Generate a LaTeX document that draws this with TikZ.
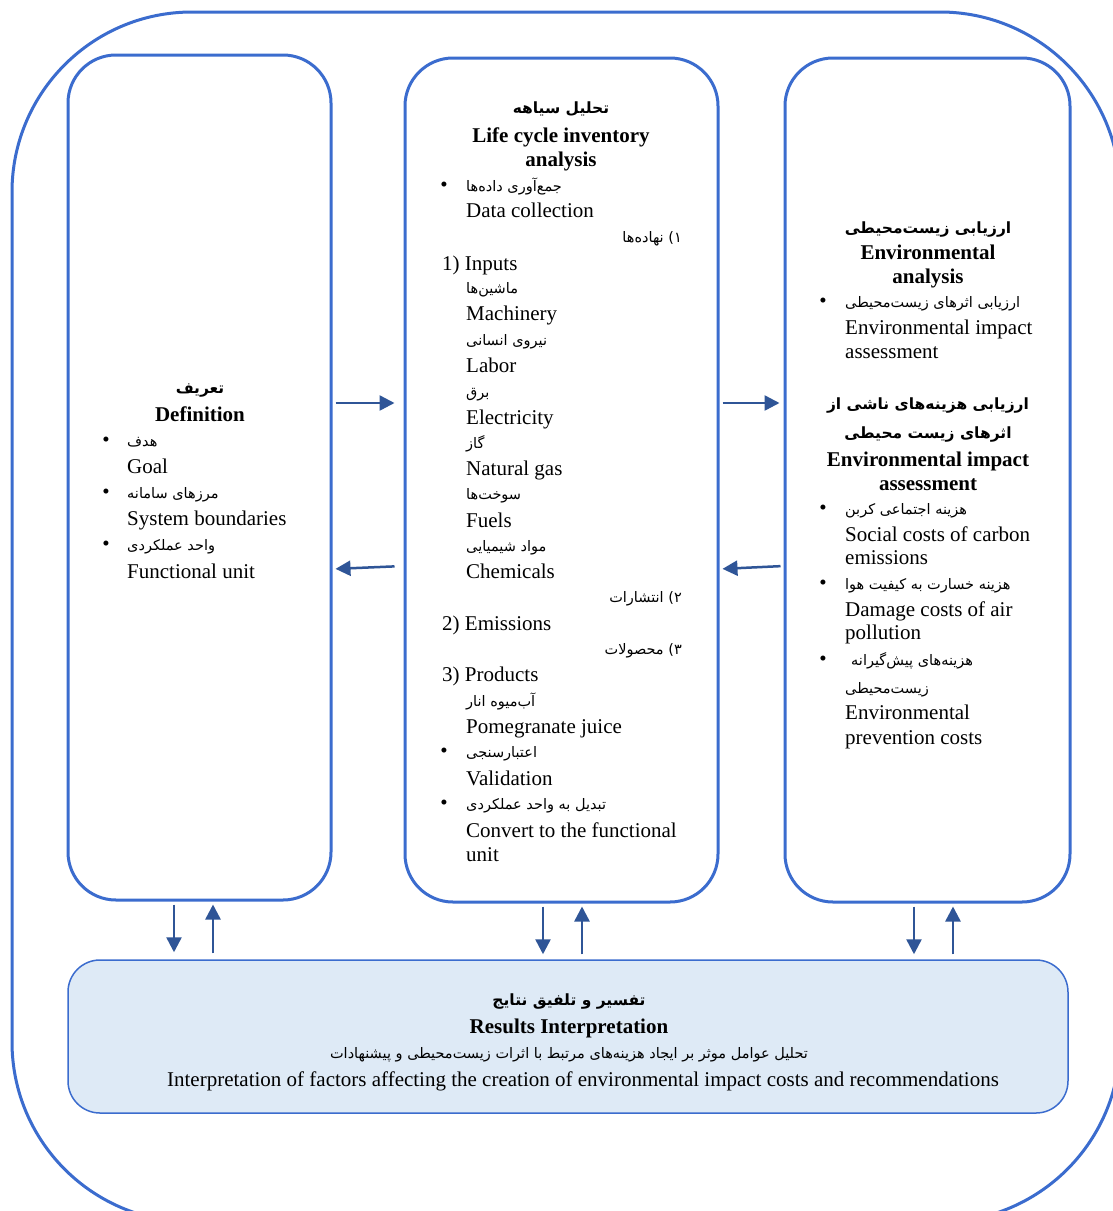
\documentclass[tikz,border=0pt]{standalone}
\usepackage{fontspec}
\setmainfont{Liberation Serif}
\newfontfamily\persfont[Script=Arabic]{DejaVu Sans}
\TeXXeTstate=1
\usetikzlibrary{arrows.meta,calc}
\definecolor{boxblue}{RGB}{59,108,206}
\definecolor{arrblue}{RGB}{47,85,151}
\definecolor{resfill}{RGB}{222,234,246}
\newcommand\RL[1]{\beginR #1\endR}
\tikzset{
 box/.style={draw=boxblue, line width=3pt, rounded corners=48pt, inner sep=0pt},
 framebox/.style={draw=boxblue, line width=3pt, rounded corners=180pt, inner sep=0pt},
 resbox/.style={draw=boxblue, line width=1.5pt, fill=resfill, rounded corners=32pt, inner sep=0pt},
 arr/.style={draw=arrblue, line width=2.5pt, -{Triangle[length=15pt,width=15pt]}},
 en/.style={font=\fontsize{21}{25}\selectfont, anchor=base west, inner sep=0pt},
 hd/.style={font=\fontsize{21}{25}\selectfont\bfseries, anchor=base, inner sep=0pt},
 fa/.style={font=\fontsize{14.5}{17}\selectfont\persfont, anchor=base west, inner sep=0pt},
 far/.style={fa, anchor=base east},
 fac/.style={fa, anchor=base},
 fahd/.style={font=\fontsize{15.5}{18}\selectfont\persfont\bfseries, anchor=base, inner sep=0pt},
 bul/.style={font=\fontsize{21}{25}\selectfont, anchor=base, inner sep=0pt},
}
\begin{document}
\begin{tikzpicture}[x=1pt,y=-1pt]
\clip (0,0) rectangle (1113,1211);
\fill[white] (0,0) rectangle (1113,1211);
% frame and boxes
\node[framebox, minimum width=1108pt, minimum height=1210pt] (frame) at (566,617) {};
\node[box, minimum width=263pt, minimum height=845pt] (def) at (199.5,477.5) {};
\node[box, minimum width=313pt, minimum height=844pt] (lci) at (561.5,480) {};
\node[box, minimum width=285pt, minimum height=844pt] (env) at (927.5,480) {};
\node[resbox, minimum width=1000pt, minimum height=153pt] (res) at (568,1036.5) {};
% helper coordinates
\coordinate (ya) at (0,403);
\coordinate (yb) at (0,566);
\coordinate (yc) at (0,569);
\coordinate (x1) at (174,0);
\coordinate (x2) at (213,0);
\coordinate (x3) at (543,0);
\coordinate (x4) at (582,0);
\coordinate (x5) at (914,0);
\coordinate (x6) at (953,0);
% horizontal arrows
\draw[arr, shorten <=3pt, shorten >=9pt] (def.east |- ya) -- (lci.west |- ya);
\draw[arr, shorten <=9pt, shorten >=3pt] (lci.west |- yb) -- (def.east |- yc);
\draw[arr, shorten <=3pt, shorten >=4pt] (lci.east |- ya) -- (env.west |- ya);
\draw[arr, shorten <=3pt, shorten >=3pt] (env.west |- yb) -- (lci.east |- yc);
% vertical arrows
\draw[arr, shorten <=3pt, shorten >=7pt] (def.south -| x1) -- (res.north -| x1);
\draw[arr, shorten <=6pt, shorten >=3pt] (res.north -| x2) -- (def.south -| x2);
\draw[arr, shorten <=3pt, shorten >=5pt] (lci.south -| x3) -- (res.north -| x3);
\draw[arr, shorten <=5pt, shorten >=3pt] (res.north -| x4) -- (lci.south -| x4);
\draw[arr, shorten <=3pt, shorten >=5pt] (env.south -| x5) -- (res.north -| x5);
\draw[arr, shorten <=5pt, shorten >=3pt] (res.north -| x6) -- (env.south -| x6);
% ---- left box text
\node[fahd] (d1) at (200,393) {\RL{تعریف}};
\node[hd] (d2) at (200,421) {Definition};
\node[bul] (db1) at (106,446) {•};
\node[fa] (d3) at (127,446) {\RL{هدف}};
\node[en] (d4) at (127,473) {Goal};
\node[bul] (db2) at (106,498) {•};
\node[fa] (d5) at (127,498) {\RL{مرزهای سامانه}};
\node[en] (d6) at (127,525) {System boundaries};
\node[bul] (db3) at (106,550) {•};
\node[fa] (d7) at (127,550) {\RL{واحد عملکردی}};
\node[en] (d8) at (127,578) {Functional unit};
% ---- middle box text
\node[fahd] (m1) at (561,113) {\RL{تحلیل سیاهه}};
\node[hd] (m2) at (561,142) {Life cycle inventory};
\node[hd] (m3) at (561,166) {analysis};
\node[bul] (mb1) at (444,191) {•};
\node[fa] (m4) at (466,191) {\RL{جمع^^^^200cآوری داده^^^^200cها}};
\node[en] (m5) at (466,217) {Data collection};
\node[far] (m6) at (682,242) {\RL{۱) نهاده^^^^200cها}};
\node[en] (m7) at (442,270) {1) Inputs};
\node[fa] (m8) at (466,293) {\RL{ماشین^^^^200cها}};
\node[en] (m9) at (466,320) {Machinery};
\node[fa] (m10) at (466,345) {\RL{نیروی انسانی}};
\node[en] (m11) at (466,372) {Labor};
\node[fa] (m12) at (466,397) {\RL{برق}};
\node[en] (m13) at (466,424) {Electricity};
\node[fa] (m14) at (466,448) {\RL{گاز}};
\node[en] (m15) at (466,475) {Natural gas};
\node[fa] (m16) at (466,499) {\RL{سوخت^^^^200cها}};
\node[en] (m17) at (466,527) {Fuels};
\node[fa] (m18) at (466,551) {\RL{مواد شیمیایی}};
\node[en] (m19) at (466,578) {Chemicals};
\node[far] (m20) at (682,602) {\RL{۲) انتشارات}};
\node[en] (m21) at (442,630) {2) Emissions};
\node[far] (m22) at (682,654) {\RL{۳) محصولات}};
\node[en] (m23) at (442,681) {3) Products};
\node[fa] (m24) at (466,706) {\RL{آب^^^^200cمیوه انار}};
\node[en] (m25) at (466,733) {Pomegranate juice};
\node[bul] (mb2) at (444,757) {•};
\node[fa] (m26) at (466,757) {\RL{اعتبارسنجی}};
\node[en] (m27) at (466,785) {Validation};
\node[bul] (mb3) at (444,809) {•};
\node[fa] (m28) at (466,809) {\RL{تبدیل به واحد عملکردی}};
\node[en] (m29) at (466,837) {Convert to the functional};
\node[en] (m30) at (466,861) {unit};
% ---- right box text
\node[fahd] (e1) at (928,233) {\RL{ارزیابی زیست^^^^200cمحیطی}};
\node[hd] (e2) at (928,259) {Environmental};
\node[hd] (e3) at (928,283) {analysis};
\node[bul] (eb1) at (823,307) {•};
\node[fa] (e4) at (845,307) {\RL{ارزیابی اثرهای زیست^^^^200cمحیطی}};
\node[en] (e5) at (845,334) {Environmental impact};
\node[en] (e6) at (845,358) {assessment};
\node[fahd] (e7) at (928,409) {\RL{ارزیابی هزینه^^^^200cهای ناشی از}};
\node[fahd] (e8) at (928,438) {\RL{اثرهای زیست محیطی}};
\node[hd] (e9) at (928,466) {Environmental impact};
\node[hd] (e10) at (928,490) {assessment};
\node[bul] (eb2) at (823,514) {•};
\node[fa] (e11) at (845,514) {\RL{هزینه اجتماعی کربن}};
\node[en] (e12) at (845,541) {Social costs of carbon};
\node[en] (e13) at (845,564) {emissions};
\node[bul] (eb3) at (823,589) {•};
\node[fa] (e14) at (845,589) {\RL{هزینه خسارت به کیفیت هوا}};
\node[en] (e15) at (845,616) {Damage costs of air};
\node[en] (e16) at (845,639) {pollution};
\node[bul] (eb4) at (823,665) {•};
\node[fa] (e17) at (851,665) {\RL{هزینه^^^^200cهای پیش^^^^200cگیرانه}};
\node[fa] (e18) at (845,693) {\RL{زیست^^^^200cمحیطی}};
\node[en] (e19) at (845,719) {Environmental};
\node[en] (e20) at (845,744) {prevention costs};
% ---- results box text
\node[fahd] (r1) at (569,1005) {\RL{تفسیر و تلفیق نتایج}};
\node[hd] (r2) at (569,1033) {Results Interpretation};
\node[fac] (r3) at (569,1058) {\RL{تحلیل عوامل موثر بر ایجاد هزینه^^^^200cهای مرتبط با اثرات زیست^^^^200cمحیطی و پیشنهادات}};
\node[en, anchor=base] (r4) at (583,1086) {Interpretation of factors affecting the creation of environmental impact costs and recommendations};
\end{tikzpicture}
\end{document}
